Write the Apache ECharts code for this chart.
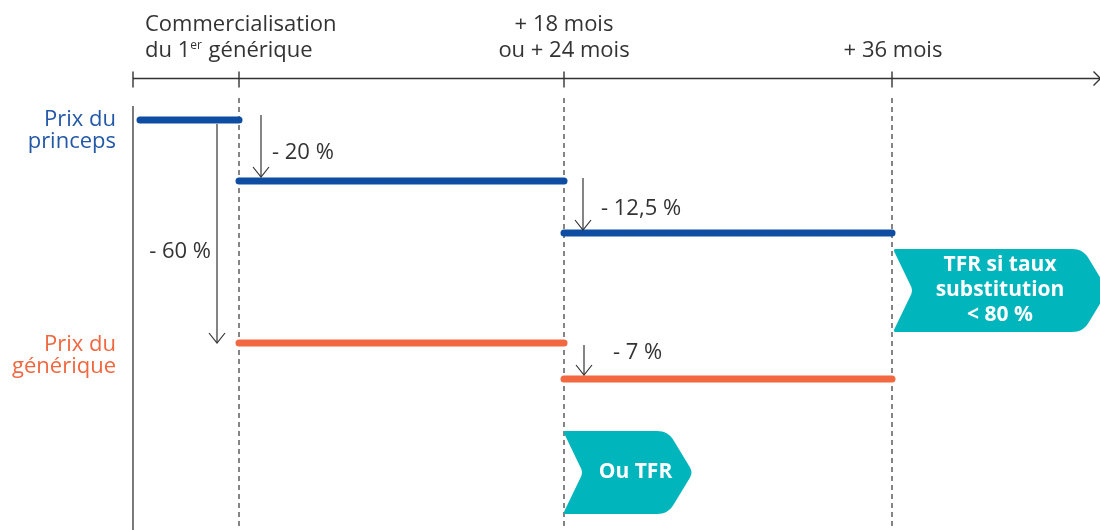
<!DOCTYPE html>
<html><head><meta charset="utf-8">
<script src="https://cdn.jsdelivr.net/npm/echarts@6/dist/echarts.min.js"></script>
<style>html,body{margin:0;padding:0;background:#fff}#c{width:1100px;height:530px}</style>
</head><body><div id="c"></div>
<script>
// Schematic diagram: x = position on the timeline, y = price row (top to bottom), 1 unit = 10 px
const stageX = [13.3, 23.9, 56.4, 89.2];
const stageLabels = [
  ['Commercialisation', 'du 1{sup|er} générique'],
  ['+ 18 mois', 'ou + 24 mois'],
  ['+ 36 mois']
];
const princepsLevels = [12.0, 18.1, 23.3];   // princeps price row in each period
const generiqueLevels = [null, 34.3, 37.9];  // generic price row in each period
const rowLabels = [['Prix du', 'princeps'], ['Prix du', 'générique']];
const dropLabels = ['- 20 %', '- 12,5 %', '- 60 %', '- 7 %'];
const boxLabels = [['TFR si taux', 'substitution', '< 80 %'], ['Ou TFR']];

const INK = '#333333', BLUE = '#0E4DA1', ORANGE = '#F26841', TEAL = '#00B5BB';
const BLUE_T = '#2358A8', ORANGE_T = '#F0673F';
const FONT = '"Open Sans", sans-serif';
const timelineY = 7.85, timelineEnd = 110.05, bottomY = 53;

const chart = echarts.init(document.getElementById('c'));

function seg(p1, p2, style) {
  return { type: 'line', shape: { x1: p1[0], y1: p1[1], x2: p2[0], y2: p2[1] }, style };
}
function txt(p, text, o) {
  return { type: 'text', x: p[0], y: p[1], style: Object.assign({
    text, fill: INK, fontFamily: FONT, fontSize: 22, align: 'left', verticalAlign: 'middle'
  }, o) };
}
function roundedPoly(pts, radii) {
  const out = [];
  const n = pts.length;
  for (let i = 0; i < n; i++) {
    const p = pts[i], a = pts[(i - 1 + n) % n], b = pts[(i + 1) % n];
    const la = Math.hypot(a[0] - p[0], a[1] - p[1]), lb = Math.hypot(b[0] - p[0], b[1] - p[1]);
    const r = Math.min(radii[i], la / 2, lb / 2);
    const s = [p[0] + (a[0] - p[0]) / la * r, p[1] + (a[1] - p[1]) / la * r];
    const e = [p[0] + (b[0] - p[0]) / lb * r, p[1] + (b[1] - p[1]) / lb * r];
    for (let k = 0; k <= 8; k++) {
      const t = k / 8, u = 1 - t;
      out.push([u * u * s[0] + 2 * u * t * p[0] + t * t * e[0], u * u * s[1] + 2 * u * t * p[1] + t * t * e[1]]);
    }
  }
  return out;
}

// derived data
const princepsSegs = princepsLevels.map((y, i) => [i === 0 ? stageX[0] + 0.7 : stageX[i], stageX[i + 1], y]);
const generiqueSegs = generiqueLevels.map((y, i) => y == null ? null : [stageX[i], stageX[i + 1], y]).filter(Boolean);
const drops = [
  [stageX[1] + 2.2, princepsLevels[0] - 0.5, princepsLevels[1] - 0.4, 0],
  [stageX[2] + 1.9, princepsLevels[1] - 0.3, princepsLevels[2] - 0.3, 1],
  [stageX[1] - 2.2, princepsLevels[0] + 0.4, generiqueLevels[1], 2],
  [stageX[2] + 2.0, generiqueLevels[1] + 0.2, generiqueLevels[2] - 0.4, 3]
];
const dropLabelOffset = [[1.1, 15.3, 'left'], [1.8, 20.9, 'left'], [-0.6, 25.2, 'right'], [2.9, 35.3, 'left']];
const boxes = [
  [stageX[3] + 0.1, 108.3, 24.9, 33.2, 0],
  [stageX[2] - 0.1, 66.8, 43.1, 51.4, 1]
];
const boxTextDx = [1.2, 2.0];

const option = {
  animation: false,
  grid: { left: 0, right: 0, top: 0, bottom: 0 },
  xAxis: { type: 'value', min: 0, max: 110, show: false },
  yAxis: { type: 'value', min: 0, max: bottomY, inverse: true, show: false },
  series: [
    { // timeline with arrow
      type: 'custom', data: [[stageX[0], timelineEnd, timelineY]],
      renderItem(params, api) {
        const a = api.coord([api.value(0), api.value(2)]), b = api.coord([api.value(1), api.value(2)]);
        return { type: 'group', children: [
          seg(a, b, { stroke: INK, lineWidth: 1.4 }),
          { type: 'polyline', shape: { points: [[b[0] - 7, b[1] - 7], b, [b[0] - 7, b[1] + 7]] }, style: { stroke: INK, lineWidth: 1.4, fill: null } }
        ] };
      }
    },
    { // stage ticks
      type: 'custom', data: stageX.map(x => [x, timelineY]),
      renderItem(params, api) {
        const a = api.coord([api.value(0), api.value(1) - 0.7]), b = api.coord([api.value(0), api.value(1) + 0.9]);
        return seg(a, b, { stroke: INK, lineWidth: 1.4 });
      }
    },
    { // vertical guides
      type: 'custom', data: stageX.map((x, i) => [x, i === 0 ? 10.6 : 9.8, bottomY, i]),
      renderItem(params, api) {
        const a = api.coord([api.value(0), api.value(1)]), b = api.coord([api.value(0), api.value(2)]);
        const solid = api.value(3) === 0;
        return seg(a, b, { stroke: solid ? INK : '#444', lineWidth: 1.3, lineDash: solid ? null : [5, 4] });
      }
    },
    { // princeps price
      type: 'custom', name: 'Prix du princeps', data: princepsSegs,
      renderItem(params, api) {
        return seg(api.coord([api.value(0), api.value(2)]), api.coord([api.value(1), api.value(2)]),
          { stroke: BLUE, lineWidth: 7, lineCap: 'round' });
      }
    },
    { // generic price
      type: 'custom', name: 'Prix du générique', data: generiqueSegs,
      renderItem(params, api) {
        return seg(api.coord([api.value(0), api.value(2)]), api.coord([api.value(1), api.value(2)]),
          { stroke: ORANGE, lineWidth: 7, lineCap: 'round' });
      }
    },
    { // price drops
      type: 'custom', data: drops,
      renderItem(params, api) {
        const x = api.value(0), i = api.value(3);
        const a = api.coord([x, api.value(1)]), b = api.coord([x, api.value(2)]);
        const off = dropLabelOffset[i];
        const lp = api.coord([x + off[0], off[1]]);
        return { type: 'group', children: [
          seg(a, b, { stroke: INK, lineWidth: 1.2 }),
          { type: 'polyline', shape: { points: [[b[0] - 8, b[1] - 10], b, [b[0] + 8, b[1] - 10]] }, style: { stroke: INK, lineWidth: 1.2, fill: null } },
          txt(lp, dropLabels[i], { align: off[2] })
        ] };
      }
    },
    { // stage labels
      type: 'custom', data: [[stageX[0] + 1.2, 0], [stageX[2], 1], [stageX[3] + 0.1, 2]],
      renderItem(params, api) {
        const idx = api.value(1), lines = stageLabels[idx];
        const align = ['left', 'center', 'center'][idx];
        return { type: 'group', children: lines.map((t, k) => {
          const y = 5.1 - 2.6 * (lines.length - 1 - k);
          return txt(api.coord([api.value(0), y]), t, { align,
            rich: { sup: { fontSize: 12, fontFamily: FONT, fill: INK, verticalAlign: 'top', padding: [0, 1, 7, 0] } } });
        }) };
      }
    },
    { // row labels
      type: 'custom', data: [[11.6, princepsLevels[0], 0], [11.6, generiqueLevels[1] + 0.2, 1]],
      renderItem(params, api) {
        const idx = api.value(2);
        return { type: 'group', children: rowLabels[idx].map((t, k) =>
          txt(api.coord([api.value(0), api.value(1) + 2.2 * k]), t, { align: 'right', fill: idx === 0 ? BLUE_T : ORANGE_T })) };
      }
    },
    { // TFR boxes
      type: 'custom', data: boxes,
      renderItem(params, api) {
        const x0 = api.value(0), x1 = api.value(1), yT = api.value(2), yB = api.value(3), idx = api.value(4);
        const yM = (yT + yB) / 2;
        const pts = [[x0, yT], [x1, yT], [x1 + 2.5, yM], [x1, yB], [x0, yB], [x0 + 2.0, yM]].map(p => api.coord(p));
        const poly = roundedPoly(pts, [3, 11, 6, 11, 3, 5]);
        const lines = boxLabels[idx];
        const cx = (x0 + x1) / 2 + boxTextDx[idx];
        return { type: 'group', children: [
          { type: 'polygon', shape: { points: poly }, style: { fill: TEAL } }
        ].concat(lines.map((t, k) => txt(api.coord([cx, yM + 2.5 * (k - (lines.length - 1) / 2)]), t,
          { align: 'center', fill: '#fff', fontWeight: 'bold', fontSize: 21 }))) };
      }
    }
  ]
};
chart.setOption(option);
</script></body></html>
